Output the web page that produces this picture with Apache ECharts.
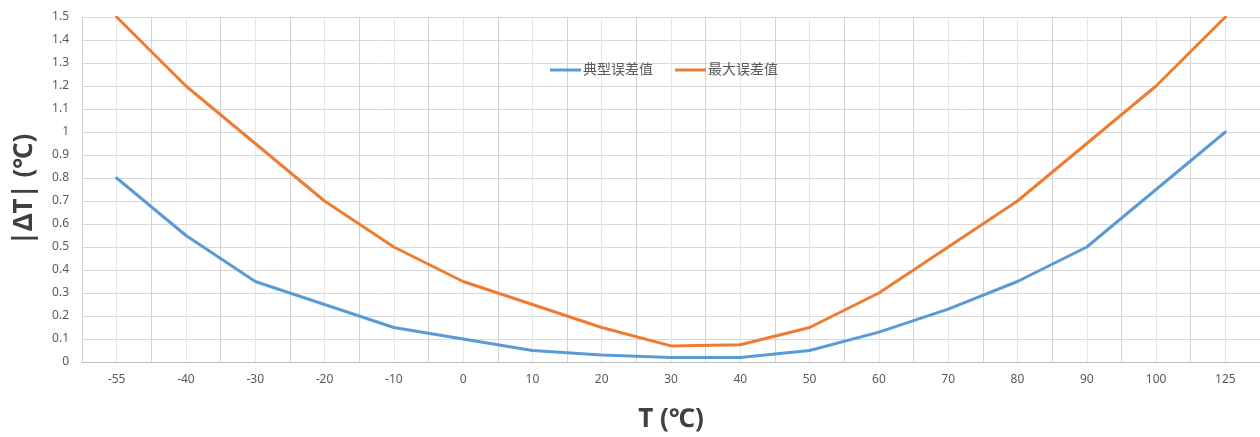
<!DOCTYPE html>
<html>
<head>
<meta charset="utf-8">
<script src="https://cdn.jsdelivr.net/npm/echarts@6/dist/echarts.min.js"></script>
<style>
html,body{margin:0;padding:0;background:#fff;}
#chart{width:1260px;height:437px;}
</style>
</head>
<body>
<div id="chart"></div>
<script>
const categories = ['-55','-40','-30','-20','-10','0','10','20','30','40','50','60','70','80','90','100','125'];
const typicalError = [0.8, 0.55, 0.35, 0.25, 0.15, 0.1, 0.05, 0.03, 0.02, 0.02, 0.05, 0.13, 0.23, 0.35, 0.5, 0.75, 1.0];
const maxError = [1.5, 1.2, 0.95, 0.7, 0.5, 0.35, 0.25, 0.15, 0.07, 0.075, 0.15, 0.3, 0.5, 0.7, 0.95, 1.2, 1.5];
const seriesNames = ['典型误差值', '最大误差值'];

const font = '"Noto Sans", "Noto Sans CJK SC", sans-serif';
const chart = echarts.init(document.getElementById('chart'));
chart.setOption({
  animation: false,
  backgroundColor: '#ffffff',
  grid: { left: 82, right: 0, top: 17, bottom: 75, containLabel: false, outerBoundsMode: 'none' },
  legend: {
    data: seriesNames,
    top: 58,
    left: 545,
    icon: 'rect',
    itemWidth: 31,
    itemHeight: 3,
    itemGap: 22,
    textStyle: { fontSize: 14, color: '#595959', fontFamily: font, padding: [0,0,0,-3] }
  },
  xAxis: [
    {
      type: 'category',
      data: categories,
      boundaryGap: true,
      axisLine: { show: true, lineStyle: { color: '#bfbfbf', width: 1 } },
      axisTick: { show: false },
      axisLabel: { color: '#595959', fontSize: 12, margin: 12, fontFamily: font },
      splitLine: { show: false },
      name: 'T (℃)',
      nameLocation: 'middle',
      nameGap: 45,
      nameTextStyle: { fontSize: 26, fontWeight: 'bold', color: '#404040', fontFamily: font }
    },
    {
      type: 'value',
      min: 0,
      max: 17,
      interval: 0.5,
      show: true,
      position: 'bottom',
      axisLine: { show: false },
      axisTick: { show: false },
      axisLabel: { show: false },
      splitLine: { show: true, lineStyle: { color: ['#d2d2d2', '#e6e6e6'], width: 1 } }
    }
  ],
  yAxis: {
    type: 'value',
    min: 0,
    max: 1.5,
    interval: 0.1,
    axisLine: { show: false },
    axisTick: { show: false },
    axisLabel: { color: '#595959', fontSize: 12, margin: 13, fontFamily: font },
    splitLine: { show: true, lineStyle: { color: '#d9d9d9', width: 1 } },
    name: '|ΔT| (℃)',
    nameLocation: 'middle',
    nameRotate: 90,
    nameGap: 44,
    nameTextStyle: { fontSize: 26, fontWeight: 'bold', color: '#404040', fontFamily: font }
  },
  series: [
    {
      name: seriesNames[0],
      type: 'line',
      xAxisIndex: 0,
      data: typicalError,
      showSymbol: false,
      symbol: 'none',
      lineStyle: { color: '#5B9BD5', width: 3, cap: 'round', join: 'round' },
      itemStyle: { color: '#5B9BD5' }
    },
    {
      name: seriesNames[1],
      type: 'line',
      xAxisIndex: 0,
      data: maxError,
      showSymbol: false,
      symbol: 'none',
      lineStyle: { color: '#ED7D31', width: 3, cap: 'round', join: 'round' },
      itemStyle: { color: '#ED7D31' }
    }
  ]
});
</script>
</body>
</html>
